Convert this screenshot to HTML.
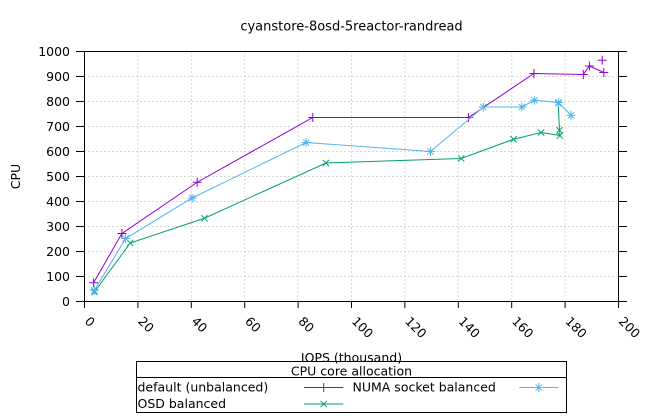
<!DOCTYPE html>
<html><head><meta charset="utf-8"><style>
html,body{margin:0;padding:0;background:#fff;}
svg{display:block;}
text{font-family:"DejaVu Sans","Liberation Sans",sans-serif;font-size:12.5px;fill:#000;}
</style></head><body>
<svg width="650" height="420" viewBox="0 0 650 420" xmlns="http://www.w3.org/2000/svg">
<defs>
<g id="mp"><path d="M-4.5,0H4.5M0,-4.5V4.5" stroke-width="1"/></g>
<g id="mx"><path d="M-3.2,-3.2L3.2,3.2M-3.2,3.2L3.2,-3.2" stroke-width="1"/></g>
<g id="ms"><path d="M-4.5,0H4.5M0,-4.5V4.5M-3.2,-3.2L3.2,3.2M-3.2,3.2L3.2,-3.2" stroke-width="1"/></g>
</defs>
<rect width="650" height="420" fill="#fff"/>
<!-- grid -->
<g stroke="#b0b0b0" stroke-width="1" stroke-dasharray="1,3">
<path d="M137.9,51.5V301.5M191.3,51.5V301.5M244.7,51.5V301.5M298.1,51.5V301.5M351.5,51.5V301.5M404.9,51.5V301.5M458.3,51.5V301.5M511.7,51.5V301.5M565.1,51.5V301.5"/>
<path d="M84.5,76.5H618.5M84.5,101.5H618.5M84.5,126.5H618.5M84.5,151.5H618.5M84.5,176.5H618.5M84.5,201.5H618.5M84.5,226.5H618.5M84.5,251.5H618.5M84.5,276.5H618.5"/>
</g>
<!-- border & ticks -->
<g stroke="#000" stroke-width="1" fill="none">
<rect x="84.5" y="51.5" width="534" height="250"/>
<path d="M76,51.5H84.5M76,76.5H84.5M76,101.5H84.5M76,126.5H84.5M76,151.5H84.5M76,176.5H84.5M76,201.5H84.5M76,226.5H84.5M76,251.5H84.5M76,276.5H84.5M76,301.5H84.5"/>
<path d="M618.5,51.5H627M618.5,76.5H627M618.5,101.5H627M618.5,126.5H627M618.5,151.5H627M618.5,176.5H627M618.5,201.5H627M618.5,226.5H627M618.5,251.5H627M618.5,276.5H627M618.5,301.5H627"/>
<path d="M84.5,301.5V308M137.9,301.5V308M191.3,301.5V308M244.7,301.5V308M298.1,301.5V308M351.5,301.5V308M404.9,301.5V308M458.3,301.5V308M511.7,301.5V308M565.1,301.5V308M618.5,301.5V308"/>
</g>
<!-- y labels -->
<g text-anchor="end">
<text x="70" y="56">1000</text>
<text x="70" y="81">900</text>
<text x="70" y="106">800</text>
<text x="70" y="131">700</text>
<text x="70" y="156">600</text>
<text x="70" y="181">500</text>
<text x="70" y="206">400</text>
<text x="70" y="231">300</text>
<text x="70" y="256">200</text>
<text x="70" y="281">100</text>
<text x="70" y="306">0</text>
</g>
<!-- x labels -->
<g>
<text x="84" y="322" transform="rotate(45 84 322)">0</text>
<text x="137.4" y="322" transform="rotate(45 137.4 322)">20</text>
<text x="190.8" y="322" transform="rotate(45 190.8 322)">40</text>
<text x="244.2" y="322" transform="rotate(45 244.2 322)">60</text>
<text x="297.6" y="322" transform="rotate(45 297.6 322)">80</text>
<text x="351" y="322" transform="rotate(45 351 322)">100</text>
<text x="404.4" y="322" transform="rotate(45 404.4 322)">120</text>
<text x="457.8" y="322" transform="rotate(45 457.8 322)">140</text>
<text x="511.2" y="322" transform="rotate(45 511.2 322)">160</text>
<text x="564.6" y="322" transform="rotate(45 564.6 322)">180</text>
<text x="618" y="322" transform="rotate(45 618 322)">200</text>
</g>
<text x="351.5" y="30.5" text-anchor="middle" style="font-size:13px">cyanstore-8osd-5reactor-randread</text>
<text x="20" y="176.5" text-anchor="middle" transform="rotate(-90 20 176.5)">CPU</text>
<text x="351.5" y="362" text-anchor="middle">IOPS (thousand)</text>
<!-- series: default -->
<g stroke="#9400d3" fill="none">
<polyline stroke-width="1" points="93.6,282.75 121.9,233.5 197.2,182.25 312.8,117.5 468.4,117.5 533.9,73.5 583.3,74.5 589.4,66 603.8,72.5"/>
<use href="#mp" x="93.6" y="282.75"/><use href="#mp" x="121.9" y="233.5"/><use href="#mp" x="197.2" y="182.25"/><use href="#mp" x="312.8" y="117.5"/><use href="#mp" x="468.4" y="117.5"/><use href="#mp" x="533.9" y="73.5"/><use href="#mp" x="583.3" y="74.5"/><use href="#mp" x="589.4" y="66"/><use href="#mp" x="603.8" y="72.5"/><use href="#mp" x="602.2" y="60.25"/>
</g>
<!-- series: OSD balanced -->
<g stroke="#009e73" fill="none">
<polyline stroke-width="1" points="94.4,292 130.2,243 204.4,218.25 325.9,163 461.2,158.5 513.6,139.25 541.1,132.5 560,135.5 559.5,130.25 558.2,103"/>
<use href="#mx" x="94.4" y="292"/><use href="#mx" x="130.2" y="243"/><use href="#mx" x="204.4" y="218.25"/><use href="#mx" x="325.9" y="163"/><use href="#mx" x="461.2" y="158.5"/><use href="#mx" x="513.6" y="139.25"/><use href="#mx" x="541.1" y="132.5"/><use href="#mx" x="560" y="135.5"/><use href="#mx" x="559.5" y="130.25"/><use href="#mx" x="558.2" y="103"/>
</g>
<!-- series: NUMA -->
<g stroke="#56b4e9" fill="none">
<polyline stroke-width="1" points="94.4,290.25 125.6,238.5 192.1,198 306.1,142.5 430.5,151.5 483.4,107 521.8,107 534.4,100.25 558.4,102.5 571,115.25"/>
<use href="#ms" x="94.4" y="290.25"/><use href="#ms" x="125.6" y="238.5"/><use href="#ms" x="192.1" y="198"/><use href="#ms" x="306.1" y="142.5"/><use href="#ms" x="430.5" y="151.5"/><use href="#ms" x="483.4" y="107"/><use href="#ms" x="521.8" y="107"/><use href="#ms" x="534.4" y="100.25"/><use href="#ms" x="558.4" y="102.5"/><use href="#ms" x="571" y="115.25"/>
</g>
<!-- legend -->
<g stroke="#000" stroke-width="1" fill="none">
<rect x="136.5" y="361.5" width="430" height="51"/>
<path d="M136.5,377.5H566.5"/>
</g>
<text x="351.5" y="375.5" text-anchor="middle">CPU core allocation</text>
<text x="137.5" y="391.5">default (unbalanced)</text>
<text x="137.5" y="408">OSD balanced</text>
<text x="352.5" y="391.5">NUMA socket balanced</text>
<g fill="none">
<path d="M304,387.5H343.3" stroke="#9400d3"/><use href="#mp" x="323.7" y="387.5" stroke="#9400d3"/>
<path d="M304,404H343.3" stroke="#009e73"/><use href="#mx" x="323.7" y="404" stroke="#009e73"/>
<path d="M519.3,387.5H558.3" stroke="#56b4e9"/><use href="#ms" x="538.8" y="387.5" stroke="#56b4e9"/>
</g>
</svg>
</body></html>
